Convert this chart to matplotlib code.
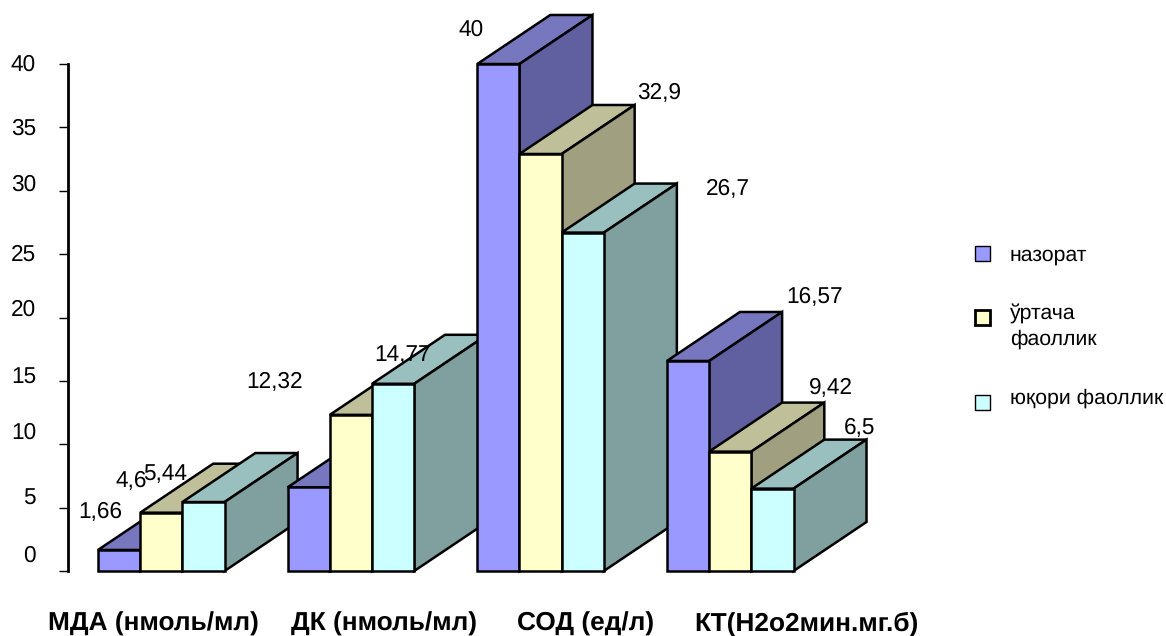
import matplotlib
matplotlib.use("Agg")
import matplotlib.pyplot as plt
from matplotlib.patches import Polygon, Rectangle

plt.rcParams['font.family'] = ['Liberation Sans', 'DejaVu Sans']
plt.rcParams['text.hinting'] = 'no_hinting'

categories = ['МДА (нмоль/мл)', 'ДК (нмоль/мл)', 'СОД (ед/л)', 'КТ(Н2о2мин.мг.б)']
series_names = ['назорат', 'ўртача\nфаоллик', 'юқори фаоллик']
nazorat = [1.66, 6.6, 40, 16.57]
urtacha = [4.6, 12.32, 32.9, 9.42]
yuqori = [5.44, 14.77, 26.7, 6.5]
y_ticks = [0, 5, 10, 15, 20, 25, 30, 35, 40]

W, H = 1166, 636
DEPTH_X = 1.73    # bar widths
DEPTH_Y = 3.866   # value units
GROUP_START = 0.71
GROUP_STEP = 4.494

front = ['#9999FF', '#FFFFCC', '#CCFFFF']
top = ['#7777BF', '#BFBF99', '#99BFBF']
side = ['#6060A0', '#A0A080', '#80A0A0']

fig = plt.figure(figsize=(W / 100, H / 100), dpi=100)
ax = fig.add_axes([68 / W, 1 - 571 / H, 932 / W, 507 / H])
ax.set_xlim(0, 932 / 42.2)
ax.set_ylim(0, 40)
for s in ['top', 'right', 'bottom']:
    ax.spines[s].set_visible(False)
ax.spines['left'].set_linewidth(2)
ax.set_xticks([])
ax.set_yticks(y_ticks)
ax.set_yticklabels([])
ax.tick_params(axis='y', length=6.5, width=1)


def draw_bar(x, v, i):
    kw = dict(edgecolor='black', linewidth=1.8, joinstyle='miter', clip_on=False)
    ax.add_patch(Polygon([(x, v), (x + 1, v), (x + 1 + DEPTH_X, v + DEPTH_Y), (x + DEPTH_X, v + DEPTH_Y)],
                         facecolor=top[i], **kw))
    ax.add_patch(Polygon([(x + 1, 0), (x + 1 + DEPTH_X, DEPTH_Y), (x + 1 + DEPTH_X, v + DEPTH_Y), (x + 1, v)],
                         facecolor=side[i], **kw))
    ax.add_patch(Rectangle((x, 0), 1, v, facecolor=front[i], **kw))


# left to right so nearer bars cover the ones behind
for g in range(len(categories)):
    x0 = GROUP_START + GROUP_STEP * g
    for i, vals in enumerate([nazorat, urtacha, yuqori]):
        draw_bar(x0 + i, vals[g], i)


def px_text(x, y, s, **kw):
    kw.setdefault('fontsize', 16.3)
    kw.setdefault('ha', 'center')
    kw.setdefault('va', 'center')
    fig.text(x / W, 1 - y / H, s, color='black', **kw)


def fmt(v):
    return str(v).replace('.', ',')


# the tick labels sit a little above their ticks, more so towards the bottom
label_y = [556, 499, 433, 378, 310, 255, 185, 129, 65]
for t, y in zip(y_ticks, label_y):
    px_text(36, y, str(t), ha='right')

value_spots = {
    1.66: (100, 512), 4.6: (131, 481), 5.44: (165, 474),
    12.32: (275, 382), 14.77: (403, 355),
    40: (471, 30), 32.9: (659, 93), 26.7: (728, 189),
    16.57: (815, 297), 9.42: (831, 388), 6.5: (860, 428),
}
for v, (x, y) in value_spots.items():
    px_text(x, y, fmt(v))

for name, x in zip(categories, [153, 384, 586, 806]):
    px_text(x, 624, name, fontweight='bold', fontsize=18.9)

# legend
boxes = [(975, 246, 1), (975, 310, 2), (975, 395, 1)]
for i, (x, y, lw) in enumerate(boxes):
    fig.add_artist(Rectangle((x / W, 1 - (y + 15) / H), 15 / W, 15 / H, facecolor=front[i],
                             edgecolor='black', linewidth=lw, transform=fig.transFigure))
px_text(1010, 255, series_names[0], ha='left', fontsize=15.3)
px_text(1010, 326, series_names[1], ha='left', fontsize=15.3, linespacing=1.45)
px_text(1010, 398, series_names[2], ha='left', fontsize=15.3)

fig.savefig('out.png', dpi=100)
